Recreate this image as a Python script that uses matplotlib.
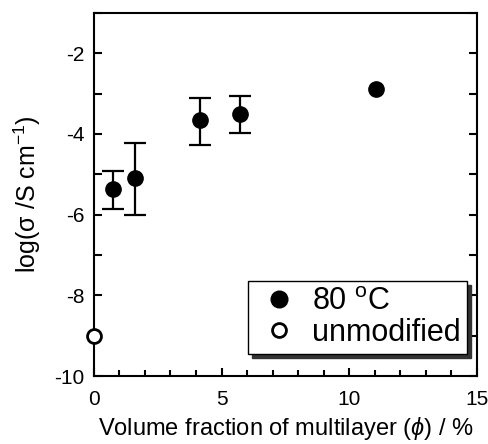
import numpy as np
import matplotlib.pyplot as plt
from matplotlib.ticker import MultipleLocator
from matplotlib.lines import Line2D

plt.rcParams['font.family'] = ['Liberation Sans', 'DejaVu Sans']
plt.rcParams['mathtext.fontset'] = 'custom'
plt.rcParams['mathtext.rm'] = 'Liberation Sans'
plt.rcParams['mathtext.it'] = 'Liberation Sans:italic'
plt.rcParams['axes.unicode_minus'] = False

# data
phi = np.array([0.74, 1.62, 4.14, 5.73, 11.06])
logsig = np.array([-5.36, -5.10, -3.66, -3.51, -2.89])
err_lo = np.array([0.50, 0.90, 0.61, 0.47, 0.0])
err_hi = np.array([0.45, 0.87, 0.56, 0.44, 0.0])

phi_unmod = [0.0]
logsig_unmod = [-9.0]

fig = plt.figure(figsize=(4.89, 4.44), dpi=100)
ax = fig.add_axes([0.192, 0.153, 0.783, 0.818])

m = (err_lo + err_hi) > 0
ax.errorbar(phi[m], logsig[m], yerr=[err_lo[m], err_hi[m]], fmt='none', ecolor='k',
            capsize=8, capthick=1.6, elinewidth=1.6, zorder=3)
ax.plot(phi, logsig, 'o', color='k', ms=11, zorder=4)
ax.plot(phi_unmod, logsig_unmod, 'o', mfc='white', mec='k', mew=2, ms=10,
        clip_on=False, zorder=5)

ax.set_xlim(0, 15)
ax.set_ylim(-10, -1)
ax.xaxis.set_major_locator(MultipleLocator(5))
ax.xaxis.set_minor_locator(MultipleLocator(1))
ax.yaxis.set_major_locator(MultipleLocator(2))
ax.yaxis.set_minor_locator(MultipleLocator(1))
ax.tick_params(which='both', direction='in', top=False, right=True, width=1.5, labelsize=15)
ax.tick_params(axis='x', pad=10)
ax.tick_params(axis='y', pad=7)
ax.tick_params(which='major', length=6)
ax.tick_params(which='minor', length=4)
ax.tick_params(axis='y', which='minor', length=6)
for s in ax.spines.values():
    s.set_linewidth(1.5)

ax.set_xlabel('Volume fraction of multilayer ($\\it{\\phi}$) / %', fontsize=17, labelpad=4)
ax.set_ylabel('log($\\mathrm{\\sigma}$ /S cm$^{-1}$)', fontsize=18, labelpad=8)

h = [Line2D([], [], ls='none', marker='o', color='k', ms=12),
     Line2D([], [], ls='none', marker='o', mfc='white', mec='k', mew=2, ms=10)]
l = ['80 $^{\\mathrm{o}}$C', 'unmodified']
leg = ax.legend(h, l, loc='lower right', bbox_to_anchor=(0.975, 0.06), fontsize=22,
                frameon=True, fancybox=False,
                shadow={'color': '0.2', 'alpha': 1, 'ox': 3, 'oy': -3},
                handletextpad=0.3, borderpad=0.2, labelspacing=0.05,
                handlelength=1.6, borderaxespad=0)
leg.get_frame().set_edgecolor('k')
leg.get_frame().set_linewidth(1.0)
leg.get_frame().set_alpha(1)
fig.savefig('out.png', dpi=100)
